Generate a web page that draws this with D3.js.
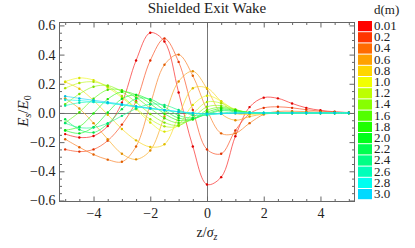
<!DOCTYPE html>
<html>
<head>
<meta charset="utf-8">
<script src="https://cdn.jsdelivr.net/npm/d3@7"></script>
<style>
body { margin: 0; background: #fff; }
svg text { font-family: "Liberation Serif", "DejaVu Serif", serif !important; fill: #222; }
</style>
</head>
<body>
<svg width="415" height="248"></svg>
<script>
// z positions (in units of sigma_z) where the wake was sampled
var zValues = [-5, -4.5, -4, -3.5, -3, -2.5, -2, -1.5, -1, -0.5, 0, 0.5, 1, 1.5, 2, 2.5, 3, 3.5, 4, 4.5, 5];

// distance after the magnet exit, d (m)
var dValues = [0.01, 0.2, 0.4, 0.6, 0.8, 1.0, 1.2, 1.4, 1.6, 1.8, 2.0, 2.2, 2.4, 2.6, 2.8, 3.0];
var dLabels = ["0.01", "0.2", "0.4", "0.6", "0.8", "1.0", "1.2", "1.4", "1.6", "1.8", "2.0", "2.2", "2.4", "2.6", "2.8", "3.0"];

// Es/E0 for each d
var wake001 = [-0.145, -0.168, -0.158, -0.09, 0.07, 0.36, 0.55, 0.49, 0.14, -0.23, -0.49, -0.44, -0.16, 0.04, 0.105, 0.10, 0.065, 0.035, 0.018, 0.008, 0.003];
var wake02  = [-0.25, -0.265, -0.25, -0.19, -0.08, 0.08, 0.36, 0.51, 0.35, 0.02, -0.25, -0.28, -0.12, -0.005, 0.035, 0.042, 0.035, 0.022, 0.012, 0.006, 0.002];
var wake04  = [-0.18, -0.235, -0.285, -0.32, -0.335, -0.23, 0.06, 0.33, 0.40, 0.255, 0.02, -0.14, -0.14, -0.07, -0.01, 0.01, 0.012, 0.009, 0.005, 0.002, 0.001];
var wake06  = [0.10, 0.03, -0.07, -0.18, -0.28, -0.318, -0.257, -0.024, 0.216, 0.286, 0.166, -0.004, -0.05, -0.025, -0.008, 0.0, 0.003, 0.002, 0.001, 0, 0];
var wake08  = [0.212, 0.166, 0.086, -0.012, -0.11, -0.188, -0.233, -0.215, -0.02, 0.169, 0.171, 0.078, -0.003, -0.01, -0.004, 0, 0.001, 0, 0, 0, 0];
var wake10  = [0.215, 0.24, 0.225, 0.175, 0.105, 0.025, -0.065, -0.128, -0.08, 0.055, 0.118, 0.08, 0.018, -0.004, -0.003, -0.001, 0, 0, 0, 0, 0];
var wake12  = [0.17, 0.205, 0.213, 0.183, 0.116, 0.032, -0.043, -0.092, -0.09, -0.005, 0.075, 0.067, 0.024, 0.0, -0.002, -0.001, 0, 0, 0, 0, 0];
var wake14  = [0.06, 0.13, 0.18, 0.188, 0.145, 0.073, -0.007, -0.066, -0.085, -0.032, 0.042, 0.05, 0.023, 0.002, -0.001, 0, 0, 0, 0, 0, 0];
var wake16  = [-0.067, 0.005, 0.098, 0.159, 0.156, 0.106, 0.032, -0.036, -0.069, -0.044, 0.019, 0.039, 0.021, 0.002, -0.001, 0, 0, 0, 0, 0, 0];
var wake18  = [-0.118, -0.094, -0.003, 0.095, 0.145, 0.124, 0.063, -0.005, -0.051, -0.044, 0.005, 0.03, 0.016, 0.002, 0, 0, 0, 0, 0, 0, 0];
var wake20  = [-0.12, -0.14, -0.097, 0.003, 0.097, 0.124, 0.086, 0.019, -0.035, -0.041, -0.005, 0.021, 0.015, 0.002, 0, 0, 0, 0, 0, 0, 0];
var wake22  = [-0.043, -0.114, -0.134, -0.075, 0.026, 0.098, 0.095, 0.042, -0.017, -0.034, -0.01, 0.015, 0.01, 0.001, 0, 0, 0, 0, 0, 0, 0];
var wake24  = [-0.07, -0.1, -0.1, -0.07, -0.02, 0.03, 0.06, 0.055, 0.02, -0.015, -0.015, 0.0, 0.005, 0.001, 0, 0, 0, 0, 0, 0, 0];
var wake26  = [0.05, 0.07, 0.075, 0.068, 0.055, 0.042, 0.03, 0.018, 0.007, -0.003, -0.009, -0.005, 0.0, 0.001, 0, 0, 0, 0, 0, 0, 0];
var wake28  = [0.09, 0.085, 0.077, 0.067, 0.055, 0.043, 0.031, 0.019, 0.008, -0.002, -0.008, -0.005, -0.001, 0, 0, 0, 0, 0, 0, 0, 0];
var wake30  = [0.115, 0.1, 0.087, 0.074, 0.06, 0.046, 0.033, 0.02, 0.009, 0.0, -0.006, -0.004, -0.001, 0, 0, 0, 0, 0, 0, 0, 0];

var wakes = [wake001, wake02, wake04, wake06, wake08, wake10, wake12, wake14,
             wake16, wake18, wake20, wake22, wake24, wake26, wake28, wake30];

var xTicks = [-4, -2, 0, 2, 4];
var yTicks = [-0.6, -0.4, -0.2, 0.0, 0.2, 0.4, 0.6];

var svg = d3.select("svg");
var serif = '"Liberation Serif", "DejaVu Serif", serif';

var x = d3.scaleLinear().domain([-5.2, 5.2]).range([59.5, 354.5]);
var y = d3.scaleLinear().domain([-0.607, 0.62]).range([201.5, 22.5]);

// colour by d: hue runs red -> cyan
function hueOf(d) { return 63 * d; }
function lineColor(d) { return d3.hsl(hueOf(d), 0.95, 0.58).toString(); }
function dotColor(d) { return d3.hsl(hueOf(d), 1, 0.44).toString(); }
function swatchColor(d) { return d3.hsl(hueOf(d), 1, 0.5).toString(); }

var frameColor = "#666";

// zero axes
svg.append("line")
  .attr("x1", x.range()[0]).attr("x2", x.range()[1])
  .attr("y1", Math.round(y(0)) + 0.5).attr("y2", Math.round(y(0)) + 0.5)
  .attr("stroke", "#777").attr("stroke-width", 1);
svg.append("line")
  .attr("x1", Math.round(x(0)) + 0.5).attr("x2", Math.round(x(0)) + 0.5)
  .attr("y1", y.range()[1]).attr("y2", y.range()[0])
  .attr("stroke", "#777").attr("stroke-width", 1);

// curves
var line = d3.line()
  .x(function(p) { return x(p[0]); })
  .y(function(p) { return y(p[1]); })
  .curve(d3.curveCatmullRom);

var plot = svg.append("g");

dValues.forEach(function(d, i) {
  var pts = zValues.map(function(z, j) { return [z, wakes[i][j]]; });
  var g = plot.append("g");
  g.append("path")
    .attr("d", line(pts))
    .attr("fill", "none")
    .attr("stroke", lineColor(d))
    .attr("stroke-width", 0.8)
    .attr("stroke-opacity", 0.9);
  g.selectAll("circle")
    .data(pts)
    .enter().append("circle")
    .attr("cx", function(p) { return x(p[0]); })
    .attr("cy", function(p) { return y(p[1]); })
    .attr("r", 1.2)
    .attr("fill", dotColor(d));
});

// frame
svg.append("rect")
  .attr("x", x.range()[0]).attr("y", y.range()[1])
  .attr("width", x.range()[1] - x.range()[0])
  .attr("height", y.range()[0] - y.range()[1])
  .attr("fill", "none").attr("stroke", frameColor).attr("stroke-width", 1);

var xMinor = d3.range(-5, 5.01, 0.5).filter(function(v) { return Math.abs(v % 2) > 1e-6; });
var yMinor = d3.range(-0.6, 0.601, 0.05).filter(function(v) {
  var r = Math.abs(v / 0.2 - Math.round(v / 0.2));
  return r > 1e-6;
});

function styleAxis(sel) {
  sel.attr("font-family", serif);
  sel.select(".domain").remove();
  sel.selectAll(".tick line").attr("stroke", frameColor);
  sel.selectAll("text")
    .style("font-family", serif)
    .attr("font-size", 14).attr("fill", "#222");
}

// bottom
svg.append("g").attr("transform", "translate(0," + y.range()[0] + ")")
  .call(d3.axisBottom(x).tickValues(xTicks).tickSize(-5).tickPadding(7).tickFormat(d3.format("d")))
  .call(styleAxis);
svg.append("g").attr("transform", "translate(0," + y.range()[0] + ")")
  .call(d3.axisBottom(x).tickValues(xMinor).tickSize(-2.5).tickFormat(""))
  .call(styleAxis);
// top
svg.append("g").attr("transform", "translate(0," + y.range()[1] + ")")
  .call(d3.axisTop(x).tickValues(xTicks).tickSize(-5).tickFormat(""))
  .call(styleAxis);
svg.append("g").attr("transform", "translate(0," + y.range()[1] + ")")
  .call(d3.axisTop(x).tickValues(xMinor).tickSize(-2.5).tickFormat(""))
  .call(styleAxis);
// left
svg.append("g").attr("transform", "translate(" + x.range()[0] + ",0)")
  .call(d3.axisLeft(y).tickValues(yTicks).tickSize(-5).tickPadding(4).tickFormat(d3.format(".1f")))
  .call(styleAxis);
svg.append("g").attr("transform", "translate(" + x.range()[0] + ",0)")
  .call(d3.axisLeft(y).tickValues(yMinor).tickSize(-2.5).tickFormat(""))
  .call(styleAxis);
// right
svg.append("g").attr("transform", "translate(" + x.range()[1] + ",0)")
  .call(d3.axisRight(y).tickValues(yTicks).tickSize(-5).tickFormat(""))
  .call(styleAxis);
svg.append("g").attr("transform", "translate(" + x.range()[1] + ",0)")
  .call(d3.axisRight(y).tickValues(yMinor).tickSize(-2.5).tickFormat(""))
  .call(styleAxis);

// title
svg.append("text")
  .attr("x", x(0)).attr("y", 13)
  .attr("text-anchor", "middle")
  .attr("font-size", 15)
  .style("font-family", serif)
  .text("Shielded Exit Wake");

// y label  E_s / E_0
var yl = svg.append("text")
  .attr("transform", "translate(28,111) rotate(-90)")
  .attr("text-anchor", "middle")
  .attr("font-size", 15)
  .style("font-family", serif);
yl.append("tspan").attr("font-style", "italic").text("E");
yl.append("tspan").attr("font-style", "italic").attr("font-size", 10).attr("dy", 3).text("s");
yl.append("tspan").attr("dy", -3).text("/");
yl.append("tspan").attr("font-style", "italic").text("E");
yl.append("tspan").attr("font-size", 10).attr("dy", 3).text("0");

// x label  z / sigma_z
var xl = svg.append("text")
  .attr("x", x(0)).attr("y", 237)
  .attr("text-anchor", "middle")
  .attr("font-size", 14)
  .style("font-family", serif);
xl.append("tspan").text("z/");
xl.append("tspan").attr("font-style", "italic").text("σ");
xl.append("tspan").attr("font-style", "italic").attr("font-size", 10).attr("dy", 3).text("z");

// legend
var legend = svg.append("g").attr("transform", "translate(358,21)");
legend.append("text")
  .attr("x", 16).attr("y", -7)
  .attr("font-size", 13)
  .style("font-family", serif)
  .text("d(m)");
var rowH = 11.2;
dValues.forEach(function(d, i) {
  legend.append("rect")
    .attr("x", 0).attr("y", i * rowH)
    .attr("width", 14).attr("height", rowH - 1)
    .attr("fill", swatchColor(d));
  legend.append("text")
    .attr("x", 16).attr("y", i * rowH + 9)
    .attr("font-size", 13)
    .style("font-family", serif)
    .text(dLabels[i]);
});
</script>
</body>
</html>
